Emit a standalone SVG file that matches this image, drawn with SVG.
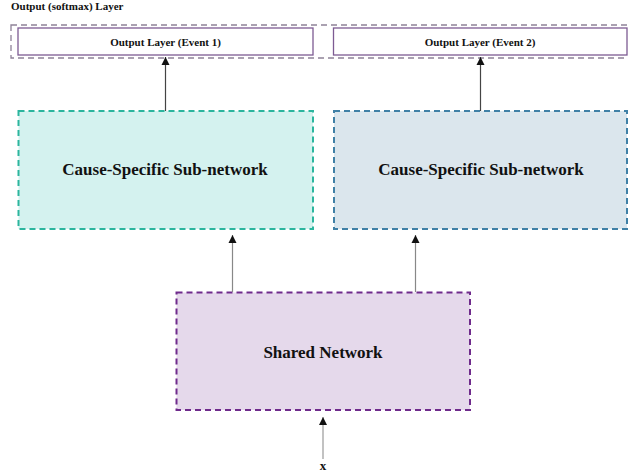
<svg xmlns="http://www.w3.org/2000/svg" width="628" height="473" viewBox="0 0 628 473">
  <style>
    .t { font-family: "Liberation Serif", "Times New Roman", serif; font-weight: bold; fill: #111; }
    .head { font-size: 11px; }
    .out { font-size: 11px; text-anchor: middle; }
    .big { font-size: 17px; text-anchor: middle; }
    .outbox { fill: #fff; stroke: #7d5b93; stroke-width: 1.3; }
    .dash { stroke-width: 2; stroke-dasharray: 6 4; }
    .edge { fill: none; stroke-width: 1.2; }
  </style>
  <defs>
    <marker id="arrow" viewBox="0 0 10 10" refX="10" refY="5" markerWidth="7" markerHeight="7" orient="auto">
      <path d="M0,0 L10,5 L0,10 z" fill="#111"/>
    </marker>
  </defs>

  <rect width="628" height="473" fill="#fff"/>

  <!-- output layer group -->
  <g id="output-layer">
    <text class="t head" x="11" y="10">Output (softmax) Layer</text>
    <rect x="11" y="25" width="630" height="33" fill="none" stroke="#8e8298" stroke-width="1.3" stroke-dasharray="6 4"/>
  </g>

  <g id="output-event1">
    <rect class="outbox" x="18" y="28" width="295" height="27"/>
    <text class="t out" x="165.5" y="45.5">Output Layer (Event 1)</text>
  </g>

  <g id="output-event2">
    <rect class="outbox" x="333.5" y="28" width="293.5" height="27"/>
    <text class="t out" x="480" y="45.5">Output Layer (Event 2)</text>
  </g>

  <g id="subnet1">
    <rect class="dash" x="18.5" y="111" width="294.5" height="118" fill="#d4f2ef" stroke="#2bb59e"/>
    <text class="t big" x="165" y="175">Cause-Specific Sub-network</text>
  </g>

  <g id="subnet2">
    <rect class="dash" x="334" y="111" width="293" height="118" fill="#dbe6ed" stroke="#3f80a6"/>
    <text class="t big" x="481" y="175">Cause-Specific Sub-network</text>
  </g>

  <g id="shared">
    <rect class="dash" x="176.5" y="292.5" width="293.5" height="117.5" fill="#e5d9eb" stroke="#6f2b8c"/>
    <text class="t big" x="323" y="358">Shared Network</text>
  </g>

  <g id="input">
    <text class="t" x="323" y="470" font-size="13" text-anchor="middle">x</text>
  </g>

  <!-- connectors -->
  <g id="connectors">
    <line class="edge" x1="165.5" y1="111" x2="165.5" y2="57" stroke="#444" marker-end="url(#arrow)"/>
    <line class="edge" x1="480.5" y1="111" x2="480.5" y2="57" stroke="#444" marker-end="url(#arrow)"/>
    <line class="edge" x1="232.5" y1="292" x2="232.5" y2="235" stroke="#888" marker-end="url(#arrow)"/>
    <line class="edge" x1="415.5" y1="292" x2="415.5" y2="235" stroke="#888" marker-end="url(#arrow)"/>
    <line class="edge" x1="323" y1="459" x2="323" y2="417" stroke="#999" marker-end="url(#arrow)"/>
  </g>
</svg>
